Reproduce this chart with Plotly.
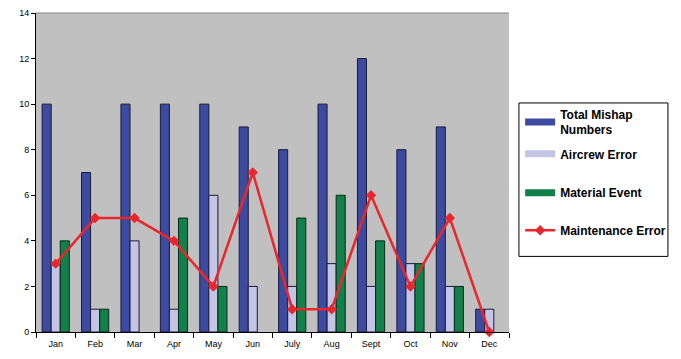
import plotly.graph_objects as go

months = ["Jan", "Feb", "Mar", "Apr", "May", "Jun", "July", "Aug", "Sept", "Oct", "Nov", "Dec"]
total_mishap = [10, 7, 10, 10, 10, 9, 8, 10, 12, 8, 9, 1]
aircrew_error = [3, 1, 4, 1, 6, 2, 2, 3, 2, 3, 2, 1]
material_event = [4, 1, 0, 5, 2, 0, 5, 6, 4, 3, 2, 0]
maintenance_error = [3, 5, 5, 4, 2, 7, 1, 1, 6, 2, 5, 0]
y_ticks = [0, 2, 4, 6, 8, 10, 12, 14]

BLUE, LAV, GREEN, RED = "#3c4aa0", "#c4c4e4", "#11804a", "#e8262c"


def edge_widths(vals):
    return [0 if v == 0 else 1 for v in vals]


fig = go.Figure()
fig.add_trace(go.Bar(x=months, y=total_mishap, name="Total Mishap Numbers", showlegend=False,
                     marker=dict(color=BLUE, line=dict(color="#1a1a3a", width=edge_widths(total_mishap)))))
fig.add_trace(go.Bar(x=months, y=aircrew_error, name="Aircrew Error", showlegend=False,
                     marker=dict(color=LAV, line=dict(color="#1a1a3a", width=edge_widths(aircrew_error)))))
fig.add_trace(go.Bar(x=months, y=material_event, name="Material Event", showlegend=False,
                     marker=dict(color=GREEN, line=dict(color="#0a2a1a", width=edge_widths(material_event)))))
fig.add_trace(go.Scatter(x=months, y=maintenance_error, name="Maintenance Error",
                         mode="lines+markers", cliponaxis=False, legend="legend4",
                         line=dict(color=RED, width=2.5),
                         marker=dict(symbol="diamond", size=8, color=RED)))

# legend-only entries drawn as wide swatches
for nm, col, lg in [("Total Mishap<br>Numbers", BLUE, "legend"),
                    ("Aircrew Error", LAV, "legend2"),
                    ("Material Event", GREEN, "legend3")]:
    fig.add_trace(go.Scatter(x=[None], y=[None], name=nm, mode="lines", legend=lg,
                             line=dict(color=col, width=7)))

lfont = dict(size=12, family="Arial, Liberation Sans, sans-serif", weight="bold", color="black")
lx = 1.0236


def leg(y):
    return dict(x=lx, y=y, xanchor="left", yanchor="middle", bgcolor="rgba(0,0,0,0)",
                borderwidth=0, font=lfont, itemwidth=30)


fig.update_layout(
    width=673, height=351,
    margin=dict(l=28, r=172, t=5, b=27),
    paper_bgcolor="white",
    plot_bgcolor="#c0c0c0",
    barmode="group",
    bargap=0.31,
    bargroupgap=0,
    font=dict(family="Arial, Liberation Sans, sans-serif", size=9, color="black"),
    showlegend=True,
    legend=leg(0.657),
    legend2=leg(0.5585),
    legend3=leg(0.4366),
    legend4=leg(0.3188),
)
fig.update_xaxes(
    type="category", range=[-0.5, 11.5], tickson="boundaries", ticks="outside", ticklen=5,
    tickcolor="black", showline=True, linecolor="black", linewidth=1,
    showgrid=False, tickfont=dict(size=9), automargin=False, ticklabelstandoff=3,
)
fig.update_yaxes(
    range=[0, 14], tickvals=y_ticks, ticks="outside", ticklen=4,
    tickcolor="black", showline=True, linecolor="black", linewidth=1,
    showgrid=False, zeroline=False, tickfont=dict(size=9), automargin=False,
    ticklabeloverflow="allow",
)
fig.add_shape(type="line", xref="paper", yref="paper", x0=0, x1=1, y0=1, y1=1,
              line=dict(color="#888888", width=1))
fig.add_shape(type="rect", xref="paper", yref="paper", x0=1.021, x1=1.336, y0=0.237, y1=0.718,
              fillcolor="white", line=dict(color="black", width=1), layer="below")

fig.write_html("out.html")
